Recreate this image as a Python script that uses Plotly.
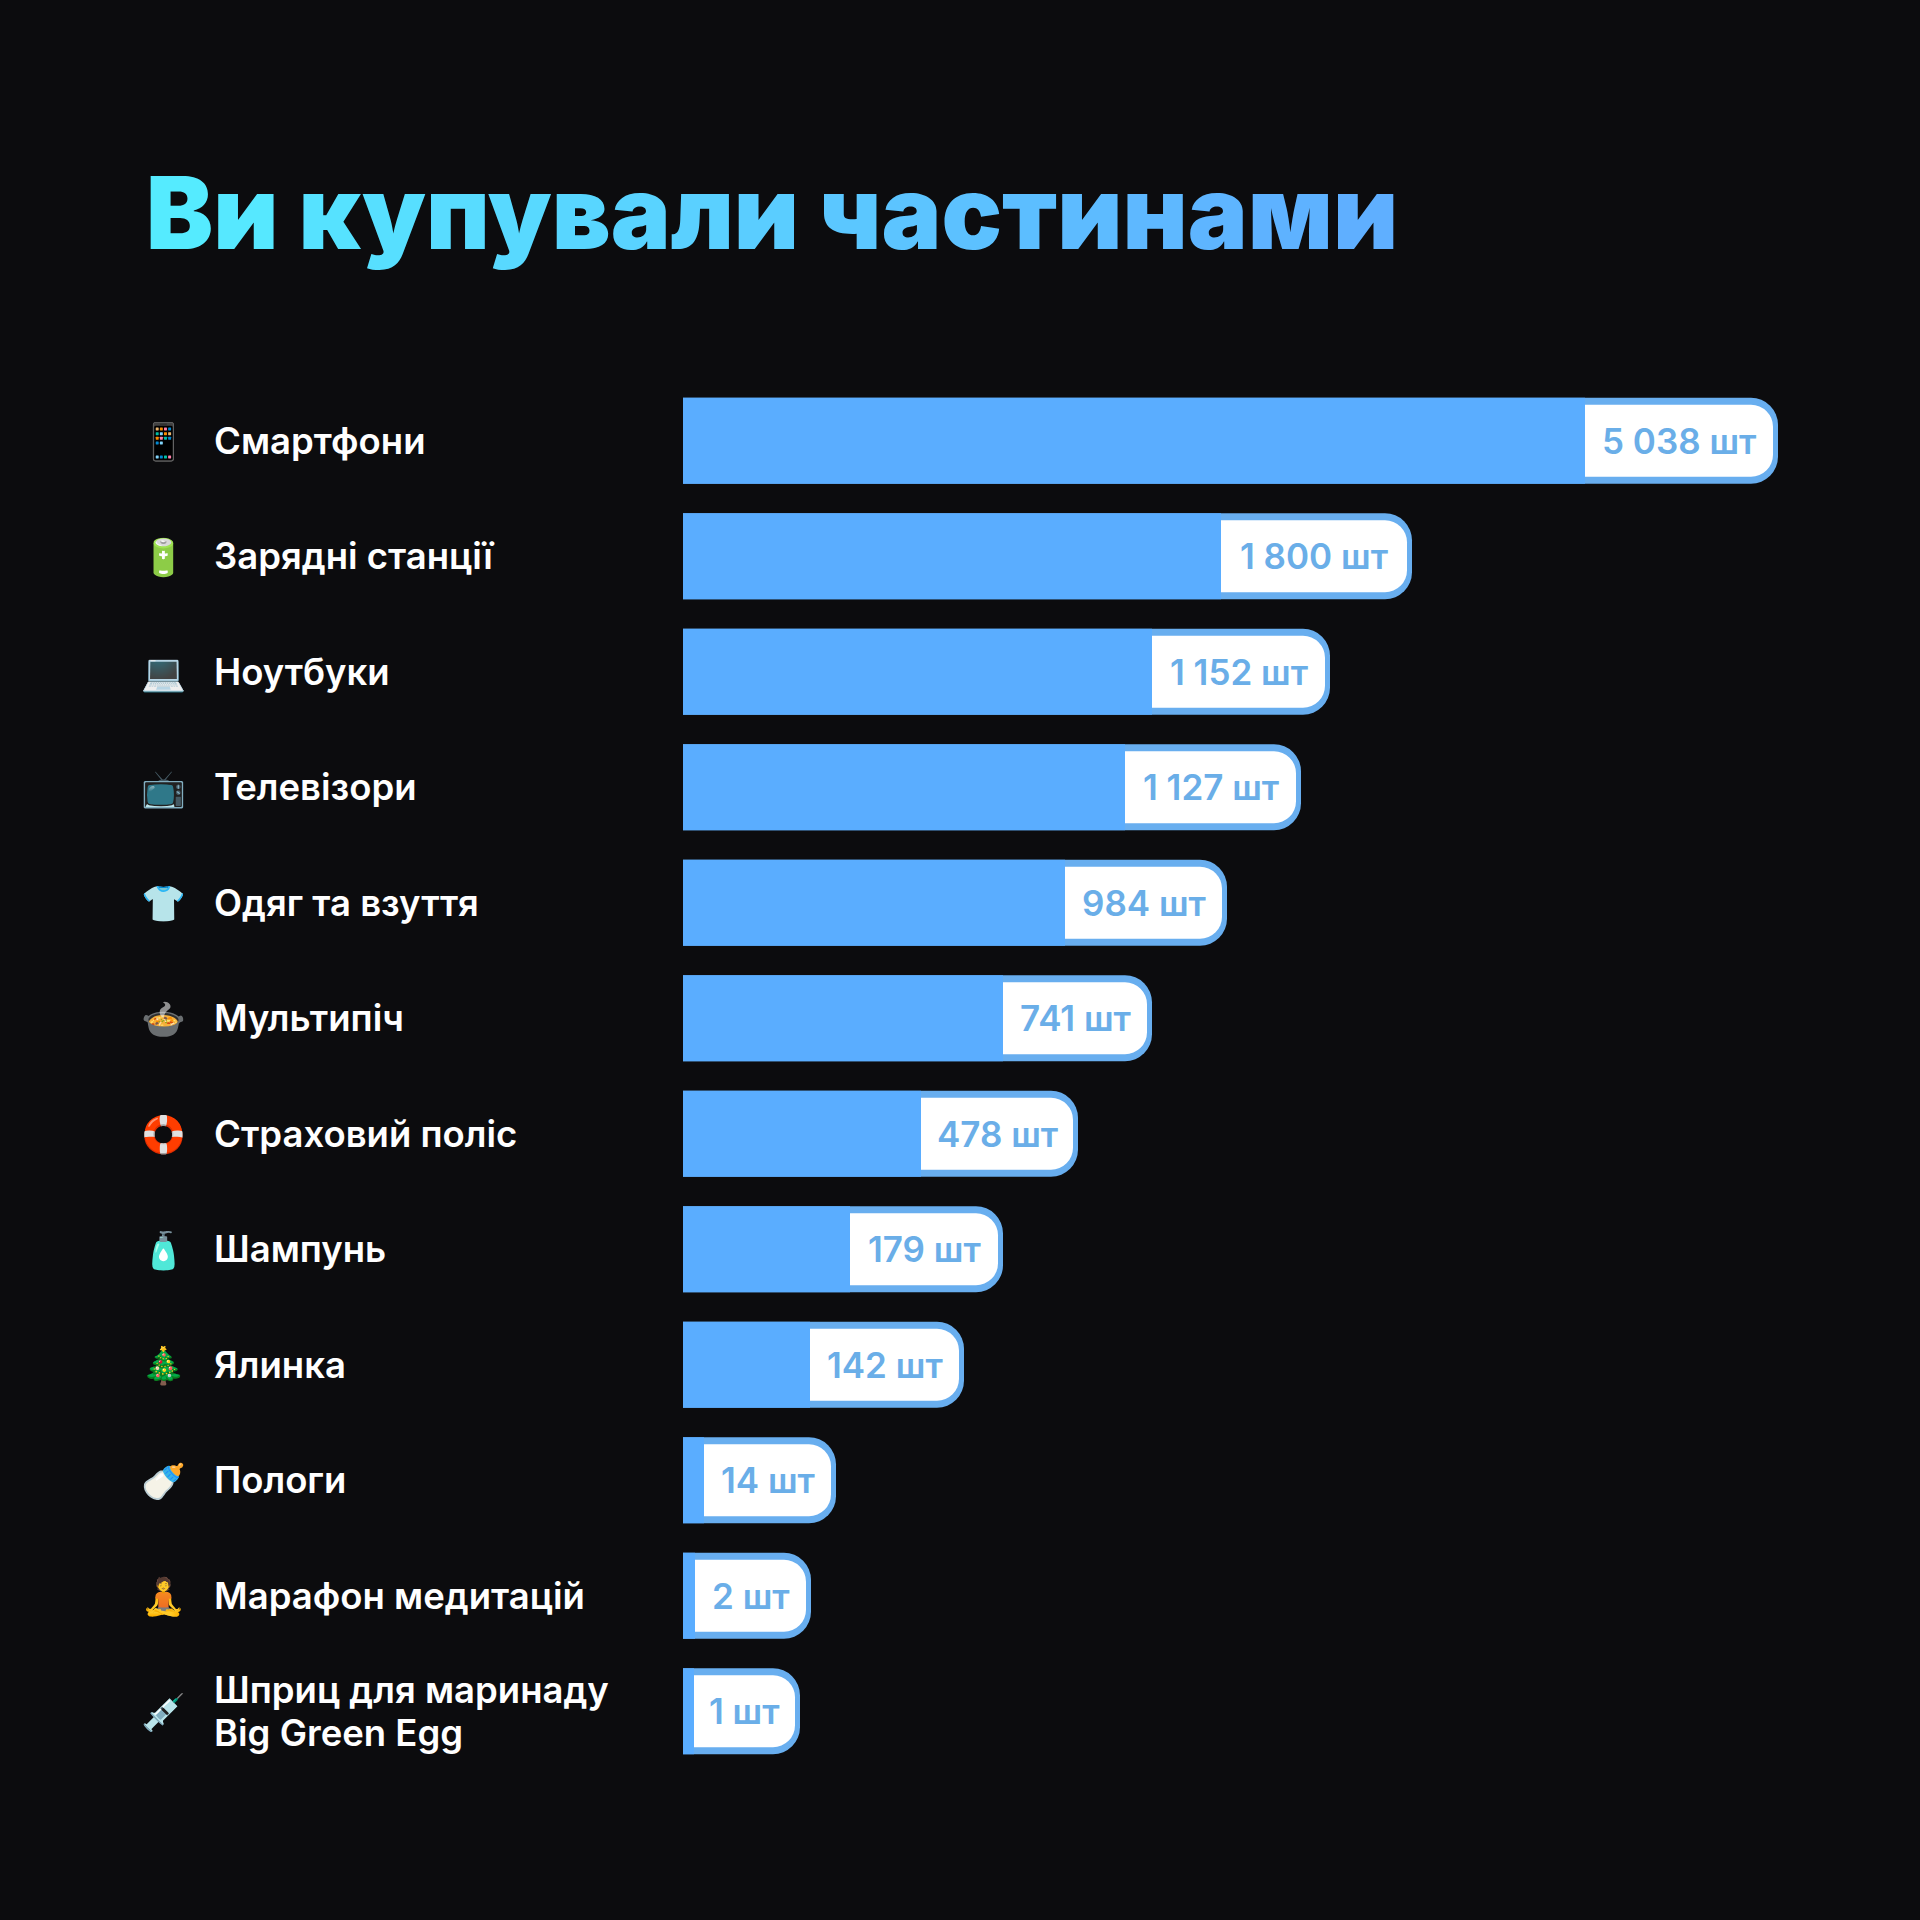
import plotly.graph_objects as go

categories = ["Смартфони", "Зарядні станції", "Ноутбуки", "Телевізори", "Одяг та взуття", "Мультипіч",
              "Страховий поліс", "Шампунь", "Ялинка", "Пологи", "Марафон медитацій",
              "Шприц для маринаду<br>Big Green Egg"]
icons = ["📱", "🔋", "💻", "📺", "👕", "🍲", "🛟", "🧴", "🎄", "🍼", "🧘", "💉"]
counts = ["5 038 шт", "1 800 шт", "1 152 шт", "1 127 шт", "984 шт", "741 шт", "478 шт", "179 шт", "142 шт", "14 шт", "2 шт", "1 шт"]
# Drawn bar lengths: the reference's bars are not proportional to the counts.
bar_lengths = [1095, 729, 647, 618, 544, 469, 395, 320, 281, 153, 128, 117]
label_start = [902, 538, 469, 442, 382, 320, 238, 167, 127, 21, 12, 11]

INK = "#0c0c0e"
BLUE = "#5aadff"
RIM = "#68aeef"
RIGHT_INSET = 5
TUCK = 30  # white box starts this far under the blue cover, hiding its rounded left corners
OUTER = 86 / 115.5
INNER = 72 / 115.5
inner_ends = [b - RIGHT_INSET for b in bar_lengths]
label_mid = [(s + e) / 2 for s, e in zip(label_start, inner_ends)]
white_base = [s - TUCK for s in label_start]
white_len = [e - b for e, b in zip(inner_ends, white_base)]

fig = go.Figure()
fig.add_bar(y=categories, x=bar_lengths, orientation="h", width=OUTER, offset=-OUTER / 2,
            marker=dict(color=RIM, line_width=0, cornerradius=27), hoverinfo="skip")
fig.add_bar(y=categories, x=white_len, base=white_base, orientation="h", width=INNER, offset=-INNER / 2,
            marker=dict(color="white", line_width=0, cornerradius=22), hoverinfo="skip")
fig.add_bar(y=categories, x=label_start, orientation="h", width=OUTER, offset=-OUTER / 2,
            marker=dict(color=BLUE, line_width=0), hoverinfo="skip")
for i, cat in enumerate(categories):
    lines = cat.split("<br>")
    for k, line in enumerate(lines):
        fig.add_annotation(text=line, x=212 / 1920, y=cat, xref="paper", yref="y", xanchor="left", align="left",
                           yshift=(len(lines) - 1) * 21.5 - k * 43,
                           showarrow=False, font=dict(family="Inter", size=36.5, color="white", weight=600))
    fig.add_annotation(text=icons[i], x=163 / 1920, y=cat, xref="paper", yref="y", xanchor="center",
                       showarrow=False, font=dict(size=36))
    fig.add_annotation(text=counts[i], x=label_mid[i], y=cat, xref="x", yref="y", xanchor="center",
                       showarrow=False, font=dict(family="Inter", size=35, color="#6aaee8", weight=600))
c0 = (85, 235, 255); c1 = (95, 175, 255)
title = "Ви купували частинами"
spans = ""
for i, ch in enumerate(title):
    t = i / (len(title) - 1)
    rgb = [round(a + (b - a) * t) for a, b in zip(c0, c1)]
    spans += f'<span style="color:rgb({rgb[0]},{rgb[1]},{rgb[2]})">{ch}</span>'
fig.update_layout(width=1920, height=1920, paper_bgcolor=INK, plot_bgcolor=INK, showlegend=False,
                  barmode="overlay", margin=dict(l=0, r=0, t=0, b=0),
                  title=dict(text=spans, x=146 / 1920, xanchor="left", y=1 - 214 / 1920, yanchor="middle",
                             font=dict(family="Inter", size=100.5, weight=900)))
fig.update_xaxes(domain=[683 / 1920, 1800 / 1920], range=[0, 1117], visible=False)
fig.update_yaxes(domain=[1 - (383 + 115.5 * 12) / 1920, 1 - 383 / 1920], range=[11.5, -0.5], visible=False)
fig.write_html("out.html", config=dict(displayModeBar=False),
               post_script="document.body.style.margin='0';document.body.style.background='#0c0c0e';document.documentElement.style.overflow='hidden';")
